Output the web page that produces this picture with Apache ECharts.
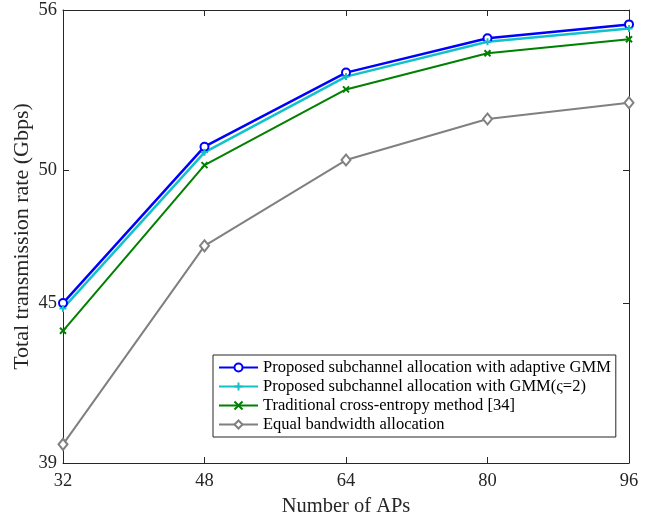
<!DOCTYPE html>
<html>
<head>
<meta charset="utf-8">
<script src="https://cdn.jsdelivr.net/npm/echarts@6/dist/echarts.min.js"></script>
<style>
  html, body { margin: 0; padding: 0; background: #fff; }
  #chart { width: 665px; height: 514px; }
</style>
</head>
<body>
<div id="chart"></div>
<script>
// Number of access points on the x axis
const aps = [32, 48, 64, 80, 96];

// Total transmission rate (Gbps) for each scheme
const adaptiveGmm = [45.0, 50.87, 53.65, 54.94, 55.46];
const gmmFixed    = [44.8, 50.66, 53.50, 54.81, 55.31];
const crossEntropy = [43.96, 50.18, 53.02, 54.38, 54.90];
const equalBandwidth = [39.70, 47.15, 50.37, 51.91, 52.52];

const seriesNames = [
  'Proposed subchannel allocation with adaptive GMM',
  'Proposed subchannel allocation with GMM(\u03c2=2)',
  'Traditional cross-entropy method [34]',
  'Equal bandwidth allocation'
];

// Tick positions on the rate axis
const yTicks = [39, 45, 50, 56];

const FONT = '"Liberation Serif", "Times New Roman", serif';
const AXIS_COLOR = '#262626';

function pairs(ys) {
  return aps.map((x, i) => [x, ys[i]]);
}

const plusPath = 'path://M5,0L5,10M0,5L10,5';
const crossPath = 'path://M0,0L10,10M10,0L0,10';

const chart = echarts.init(document.getElementById('chart'));

const baseTick = { show: true, inside: true, length: 6, lineStyle: { color: AXIS_COLOR, width: 1 } };

chart.setOption({
  animation: false,
  backgroundColor: '#fff',
  grid: { left: 63, right: 36, top: 10, bottom: 51, containLabel: false, outerBoundsMode: 'none' },
  xAxis: [{
    type: 'value', min: 32, max: 96, interval: 16,
    name: 'Number of APs', nameLocation: 'middle', nameGap: 30,
    nameTextStyle: { fontFamily: FONT, fontSize: 20.5, color: AXIS_COLOR },
    axisLine: { show: true, lineStyle: { color: AXIS_COLOR, width: 1 } },
    axisTick: baseTick,
    axisLabel: { fontFamily: FONT, fontSize: 18.5, color: AXIS_COLOR, margin: 9 },
    splitLine: { show: false }
  }, {
    type: 'value', min: 32, max: 96, interval: 16, position: 'top',
    axisLine: { show: true, onZero: false, lineStyle: { color: AXIS_COLOR, width: 1 } },
    axisTick: baseTick,
    axisLabel: { show: false },
    splitLine: { show: false }
  }],
  yAxis: [{
    type: 'value', min: 39, max: 56,
    name: 'Total transmission rate (Gbps)', nameLocation: 'middle', nameGap: 30,
    nameMoveOverlap: false,
    nameTextStyle: { fontFamily: FONT, fontSize: 22, color: AXIS_COLOR },
    axisLine: { show: true, lineStyle: { color: AXIS_COLOR, width: 1 } },
    axisTick: Object.assign({ customValues: yTicks }, baseTick),
    axisLabel: { customValues: yTicks, fontFamily: FONT, fontSize: 18.5, color: AXIS_COLOR, margin: 6 },
    splitLine: { show: false }
  }, {
    type: 'value', min: 39, max: 56, position: 'right',
    axisLine: { show: true, onZero: false, lineStyle: { color: AXIS_COLOR, width: 1 } },
    axisTick: Object.assign({ customValues: yTicks }, baseTick),
    axisLabel: { show: false },
    splitLine: { show: false }
  }],
  legend: {
    orient: 'vertical',
    left: 213, top: 355,
    padding: [4, 5, 4, 5],
    itemWidth: 39, itemHeight: 10, itemGap: 2,
    backgroundColor: '#fff',
    borderColor: AXIS_COLOR, borderWidth: 1,
    textStyle: { fontFamily: FONT, fontSize: 16.5, color: '#000' },
    data: seriesNames
  },
  series: [
    {
      name: seriesNames[0], type: 'line', data: pairs(adaptiveGmm),
      symbol: 'emptyCircle', symbolSize: 8,
      lineStyle: { color: '#0000ff', width: 2.5 },
      itemStyle: { color: '#0000ff', borderColor: '#0000ff', borderWidth: 2 }
    },
    {
      name: seriesNames[1], type: 'line', data: pairs(gmmFixed),
      symbol: plusPath, symbolSize: 7, symbolKeepAspect: true,
      lineStyle: { color: '#12c2c9', width: 2.5 },
      itemStyle: { color: '#12c2c9', borderColor: '#12c2c9', borderWidth: 2 }
    },
    {
      name: seriesNames[2], type: 'line', data: pairs(crossEntropy),
      symbol: crossPath, symbolSize: 6, symbolKeepAspect: true,
      lineStyle: { color: '#008000', width: 2 },
      itemStyle: { color: '#008000', borderColor: '#008000', borderWidth: 2 }
    },
    {
      name: seriesNames[3], type: 'line', data: pairs(equalBandwidth),
      symbol: 'path://M5,0L10,6L5,12L0,6Z', symbolSize: [9, 11],
      lineStyle: { color: '#808080', width: 2 },
      itemStyle: { color: '#ffffff', borderColor: '#808080', borderWidth: 2 }
    }
  ]
});
</script>
</body>
</html>
